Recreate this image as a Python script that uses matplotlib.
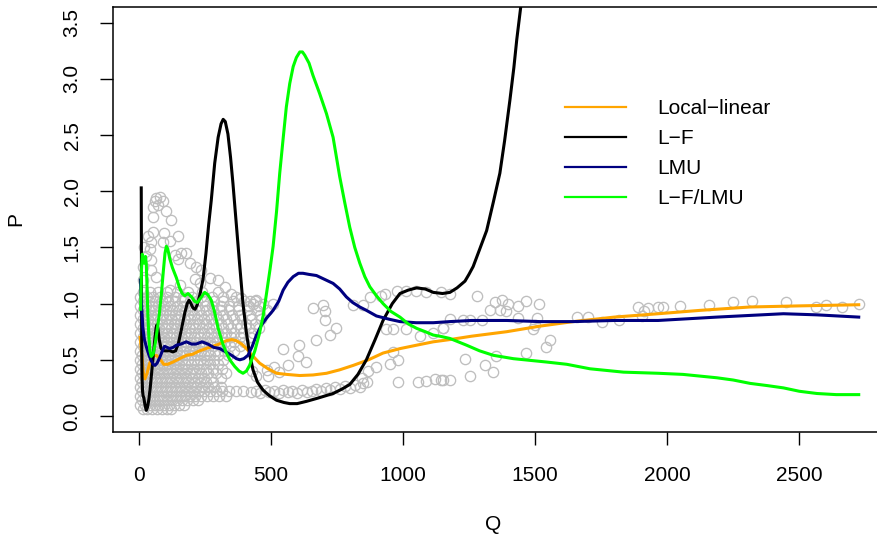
import matplotlib
matplotlib.use("Agg")
import matplotlib.pyplot as plt

plt.rcParams['font.family'] = ['Liberation Sans', 'DejaVu Sans']

# ---- fitted curves ----
orange_q = [6, 12, 18, 24, 32, 42, 55, 67, 80, 95,
            110, 130, 155, 181, 205, 231, 255, 281, 305, 332,
            352, 370, 390, 408, 430, 458, 490, 522, 560, 610,
            660, 711, 760, 812, 870, 925, 990, 1052, 1115, 1178,
            1260, 1393, 1520, 1645, 1800, 1967, 2125, 2314, 2504, 2725]
orange_p = [0.70, 0.55, 0.38, 0.33, 0.38, 0.47, 0.53, 0.54, 0.51, 0.46,
            0.46, 0.48, 0.51, 0.54, 0.55, 0.58, 0.60, 0.62, 0.64, 0.67,
            0.68, 0.67, 0.64, 0.60, 0.54, 0.47, 0.42, 0.38, 0.37, 0.36,
            0.365, 0.38, 0.41, 0.45, 0.50, 0.56, 0.60, 0.63, 0.66, 0.68,
            0.71, 0.75, 0.80, 0.84, 0.88, 0.91, 0.94, 0.97, 0.98, 0.99]

black_q = [10, 10.5, 11, 12, 13, 15, 17, 20, 24, 29,
           34, 39, 44, 50, 56, 62, 66, 69, 73, 78,
           85, 95, 105, 118, 130, 140, 150, 162, 175, 184,
           191, 198, 206, 214, 222, 232, 244, 255, 265, 275,
           288, 301, 312, 320, 328, 338, 348, 357, 370, 383,
           395, 408, 420, 433, 450, 471, 495, 522, 550, 572,
           600, 635, 680, 736, 770, 799, 830, 862, 895, 925,
           960, 989, 1020, 1052, 1085, 1115, 1150, 1178, 1205, 1235,
           1250, 1266, 1290, 1317, 1342, 1367, 1385, 1405, 1420, 1431,
           1446, 1460]
black_p = [2.03, 1.6, 1.1, 0.6, 0.35, 0.22, 0.18, 0.16, 0.10, 0.05,
           0.08, 0.15, 0.25, 0.40, 0.55, 0.70, 0.78, 0.81, 0.78, 0.68,
           0.60, 0.58, 0.58, 0.58, 0.57, 0.58, 0.64, 0.77, 0.92, 1.00,
           1.03, 1.00, 0.96, 0.95, 0.99, 1.08, 1.22, 1.45, 1.70, 1.92,
           2.25, 2.48, 2.60, 2.64, 2.62, 2.51, 2.30, 2.07, 1.70, 1.33,
           1.00, 0.74, 0.55, 0.41, 0.30, 0.23, 0.18, 0.14, 0.12, 0.11,
           0.11, 0.13, 0.16, 0.20, 0.24, 0.28, 0.37, 0.50, 0.68, 0.85,
           1.00, 1.09, 1.12, 1.14, 1.13, 1.10, 1.09, 1.10, 1.14, 1.20,
           1.26, 1.33, 1.48, 1.65, 1.90, 2.16, 2.45, 2.81, 3.10, 3.35,
           3.64, 3.95]

navy_q = [7, 9, 12, 16, 22, 30, 38, 46, 55, 62,
          70, 80, 90, 98, 108, 117, 130, 143, 160, 181,
          200, 218, 240, 262, 285, 307, 330, 352, 370, 383,
          398, 414, 430, 446, 465, 484, 509, 530, 547, 565,
          585, 605, 622, 645, 673, 700, 736, 761, 786, 810,
          837, 862, 900, 950, 989, 1050, 1115, 1178, 1260, 1393,
          1520, 1645, 1800, 1966, 2188, 2440, 2567, 2725]
navy_p = [1.21, 1.10, 0.95, 0.79, 0.68, 0.61, 0.55, 0.50, 0.46, 0.45,
          0.47, 0.52, 0.58, 0.62, 0.61, 0.60, 0.61, 0.63, 0.64, 0.66,
          0.64, 0.64, 0.66, 0.64, 0.61, 0.60, 0.57, 0.54, 0.51, 0.50,
          0.51, 0.54, 0.62, 0.72, 0.81, 0.87, 0.94, 1.02, 1.12, 1.19,
          1.24, 1.27, 1.27, 1.26, 1.25, 1.22, 1.18, 1.13, 1.06, 1.01,
          0.97, 0.94, 0.89, 0.86, 0.84, 0.83, 0.83, 0.84, 0.85, 0.85,
          0.84, 0.84, 0.85, 0.85, 0.88, 0.91, 0.90, 0.88]

green_q = [8, 11, 14, 17, 21, 26, 29, 32, 35, 39,
           43, 48, 55, 62, 70, 78, 86, 94, 100, 105,
           110, 118, 128, 143, 155, 165, 175, 187, 200, 212,
           222, 235, 250, 262, 275, 288, 301, 316, 332, 348,
           364, 380, 395, 408, 420, 440, 458, 472, 484, 497,
           509, 522, 534, 547, 559, 572, 585, 597, 610, 620,
           629, 645, 660, 685, 711, 736, 761, 780, 799, 818,
           837, 856, 875, 900, 925, 955, 989, 1020, 1052, 1085,
           1115, 1140, 1178, 1241, 1290, 1342, 1418, 1544, 1620, 1708,
           1835, 1967, 2060, 2188, 2250, 2314, 2380, 2440, 2500, 2567,
           2640, 2725]
green_p = [0.95, 1.30, 1.44, 1.40, 1.36, 1.42, 1.35, 1.15, 0.90, 0.70,
           0.58, 0.53, 0.55, 0.63, 0.76, 0.90, 1.08, 1.30, 1.45, 1.51,
           1.49, 1.40, 1.32, 1.23, 1.14, 1.09, 1.07, 1.09, 1.06, 1.02,
           1.01, 1.05, 1.10, 1.08, 1.03, 0.92, 0.78, 0.66, 0.56, 0.49,
           0.44, 0.40, 0.38, 0.40, 0.45, 0.58, 0.74, 0.90, 1.09, 1.30,
           1.51, 1.82, 2.16, 2.47, 2.75, 2.96, 3.11, 3.19, 3.24, 3.24,
           3.21, 3.14, 3.03, 2.87, 2.69, 2.48, 2.13, 1.90, 1.68, 1.50,
           1.36, 1.24, 1.15, 1.07, 1.00, 0.93, 0.88, 0.82, 0.78, 0.75,
           0.72, 0.71, 0.69, 0.63, 0.58, 0.54, 0.51, 0.48, 0.46, 0.42,
           0.39, 0.38, 0.37, 0.34, 0.32, 0.29, 0.27, 0.25, 0.22, 0.20,
           0.19, 0.19]

# ---- observations (Q, P) ----
# dense low-Q cluster, stored as rows of equal P
cluster_rows_p = [0.06, 0.10, 0.14, 0.18, 0.22, 0.26, 0.30, 0.34, 0.38, 0.42,
                  0.46, 0.50, 0.54, 0.58, 0.62, 0.66, 0.70, 0.74, 0.78, 0.82,
                  0.86, 0.90, 0.94, 0.98, 1.02, 1.06, 1.10]
cluster_rows_q = [
    [15, 33, 52, 70, 88, 106, 124],
    [6, 24, 42, 61, 79, 97, 116, 135, 154, 172],
    [14, 33, 51, 70, 88, 107, 126, 145, 164, 184, 204, 225],
    [5, 23, 42, 60, 79, 98, 117, 136, 155, 175, 195, 215, 236, 258, 281, 305, 330],
    [14, 32, 51, 70, 89, 108, 127, 146, 166, 186, 206, 227, 248, 270, 293, 317, 342, 368, 395],
    [5, 23, 42, 61, 80, 99, 118, 137, 157, 177, 197, 218, 240, 263, 287, 312],
    [14, 33, 52, 71, 90, 109, 128, 148, 168, 188, 209, 231, 254, 280],
    [5, 24, 43, 62, 81, 100, 120, 140, 160, 181, 202, 224, 248, 275, 310],
    [14, 33, 52, 72, 91, 111, 131, 151, 172, 193, 215, 238, 263, 292, 330],
    [5, 24, 43, 63, 82, 102, 122, 142, 163, 184, 206, 229, 254, 282, 316],
    [14, 34, 53, 73, 93, 113, 133, 154, 175, 197, 220, 244, 270, 300],
    [5, 24, 44, 64, 84, 104, 124, 145, 166, 188, 210, 233, 258, 285, 318],
    [14, 34, 54, 74, 94, 114, 135, 156, 177, 199, 222, 246, 272, 302, 340],
    [5, 25, 45, 65, 85, 105, 126, 147, 168, 190, 213, 237, 262, 290, 322, 360],
    [15, 35, 55, 75, 96, 117, 138, 159, 181, 204, 228, 253, 280, 310, 345, 382],
    [5, 25, 45, 66, 87, 108, 129, 150, 172, 195, 219, 244, 270, 298, 328, 362, 400],
    [15, 35, 56, 77, 98, 119, 140, 162, 185, 209, 234, 260, 287, 316, 348, 384, 420],
    [5, 25, 46, 67, 88, 109, 131, 153, 176, 200, 224, 249, 275, 302, 331, 362, 396, 434],
    [15, 36, 57, 78, 99, 121, 143, 166, 190, 214, 239, 265, 292, 320, 350, 382, 417, 455],
    [5, 26, 47, 68, 90, 112, 134, 157, 181, 205, 230, 256, 283, 311, 340, 371, 405, 442],
    [16, 37, 58, 80, 102, 124, 147, 171, 195, 220, 246, 273, 301, 330, 360, 392, 427, 463],
    [6, 27, 48, 70, 92, 115, 138, 162, 186, 211, 237, 264, 292, 321, 352, 385, 420, 458],
    [16, 38, 60, 82, 105, 128, 152, 176, 201, 227, 254, 282, 311, 342, 375, 410, 448, 485],
    [6, 28, 50, 73, 96, 120, 144, 169, 195, 222, 250, 279, 310, 343, 378, 416, 456],
    [17, 40, 63, 87, 112, 138, 165, 193, 222, 253, 286, 321, 358, 398, 440],
    [7, 30, 55, 81, 108, 137, 168, 201, 237, 276, 320, 368],
    [18, 45, 75, 108, 145, 188, 240, 300],
]

arm_pts = [(67, 1.94), (80, 1.95), (61, 1.91), (92, 1.91), (73, 1.88), (54, 1.86),
           (105, 1.82), (124, 1.74), (54, 1.77), (54, 1.64), (98, 1.63), (149, 1.60),
           (48, 1.55), (92, 1.55), (117, 1.56), (42, 1.49), (136, 1.43), (162, 1.45),
           (181, 1.45), (149, 1.40), (193, 1.36), (216, 1.33), (237, 1.30), (269, 1.23),
           (300, 1.21), (29, 1.42), (48, 1.39), (16, 1.33), (48, 1.30), (67, 1.24),
           (16, 1.21), (212, 1.22), (231, 1.18), (326, 1.15), (351, 1.09), (389, 1.05),
           (420, 1.02), (446, 1.03), (117, 1.12), (155, 1.17), (20, 1.50), (36, 1.60)]

low_band_pts = [(425, 0.21), (445, 0.22), (460, 0.20), (478, 0.23), (495, 0.21), (512, 0.22),
                (530, 0.20), (548, 0.23), (565, 0.21), (582, 0.22), (600, 0.20), (618, 0.23),
                (636, 0.21), (655, 0.22), (672, 0.24), (690, 0.22), (708, 0.25), (726, 0.23),
                (744, 0.26), (762, 0.24), (780, 0.27), (800, 0.25), (818, 0.28), (836, 0.26),
                (850, 0.29), (863, 0.30)]

mid_pts = [(430, 0.40), (446, 0.36), (484, 0.41), (490, 0.36), (511, 0.44), (531, 0.39),
           (547, 0.60), (566, 0.45), (603, 0.53), (606, 0.63), (633, 0.48), (660, 0.96),
           (673, 0.68), (698, 0.99), (705, 0.93), (705, 0.85), (723, 0.72), (746, 0.78),
           (812, 0.99), (850, 0.99), (875, 1.06), (919, 1.07), (932, 1.09), (976, 1.11),
           (1013, 1.11), (1051, 1.11), (1089, 1.10), (1146, 1.10), (938, 0.77), (963, 0.77),
           (1013, 0.77), (1064, 0.71), (1114, 0.74), (1152, 0.78), (963, 0.57), (982, 0.50),
           (951, 0.46), (900, 0.44), (869, 0.40), (844, 0.34), (982, 0.30), (1058, 0.30),
           (1089, 0.31), (1120, 0.33), (1146, 0.32), (433, 1.00), (470, 1.00), (508, 1.00)]

tail_pts = [(1178, 1.09), (1279, 1.07), (1348, 1.01), (1374, 1.03), (1399, 1.00),
            (1330, 0.94), (1367, 0.94), (1392, 0.93), (1437, 0.98), (1466, 1.02),
            (1516, 1.00), (1298, 0.85), (1254, 0.85), (1229, 0.85), (1178, 0.86),
            (1153, 0.78), (1437, 0.87), (1506, 0.87), (1500, 0.81), (1494, 0.77),
            (1557, 0.68), (1542, 0.61), (1466, 0.56), (1352, 0.53), (1235, 0.51),
            (1311, 0.45), (1342, 0.39), (1254, 0.36), (1153, 0.32), (1178, 0.32),
            (1658, 0.88), (1700, 0.88), (1755, 0.84), (1818, 0.85), (1891, 0.97),
            (1929, 0.96), (1913, 0.93), (1904, 0.89), (1966, 0.97), (1986, 0.97),
            (2049, 0.98), (2157, 0.99), (2249, 1.01), (2321, 1.02), (2451, 1.01),
            (2564, 0.97), (2602, 0.99), (2662, 0.97), (2725, 1.00)]

x_ticks = [0, 500, 1000, 1500, 2000, 2500]
y_ticks = [0.0, 0.5, 1.0, 1.5, 2.0, 2.5, 3.0, 3.5]
legend_labels = ["Local\u2212linear", "L\u2212F", "LMU", "L\u2212F/LMU"]
line_colors = ["#FFA500", "black", "#000080", "#00FF00"]

obs_q, obs_p = [], []
for p, row in zip(cluster_rows_p, cluster_rows_q):
    obs_q += row
    obs_p += [p] * len(row)
for q, p in arm_pts + low_band_pts + mid_pts + tail_pts:
    obs_q.append(q)
    obs_p.append(p)

fig = plt.figure(figsize=(8.78, 5.42), dpi=100)
W, H = 878, 542
ax = fig.add_axes([112.7 / W, 1 - 431.7 / H, (887 - 112.7) / W, (431.7 - 7) / H])

ax.plot(obs_q, obs_p, linestyle='none', marker='o', markersize=7.4,
        markerfacecolor='none', markeredgecolor='#BEBEBE', markeredgewidth=0.95)

curves = [(orange_q, orange_p), (black_q, black_p), (navy_q, navy_p), (green_q, green_p)]
handles = []
for (qs, ps), col, lab in zip(curves, line_colors, legend_labels):
    h, = ax.plot(qs, ps, color=col, lw=2.2, label=lab, solid_joinstyle='round')
    handles.append(h)

ax.set_xlim(-98, 2832)
ax.set_ylim(-0.14, 3.64)
ax.set_xticks(x_ticks)
ax.set_xticklabels([str(t) for t in x_ticks])
ax.set_yticks(y_ticks)
ax.set_yticklabels([f"{t:.1f}" for t in y_ticks], rotation=90, va='center')
ax.tick_params(direction='out', length=9.4, width=1.0, labelsize=15, pad=13)
ax.tick_params(axis='x', pad=15.5)
for s in ax.spines.values():
    s.set_linewidth(1.1)

fig.text(493 / W, 1 - 525 / H, "Q", fontsize=15, ha='center', va='center')
fig.text(16 / W, 1 - 219 / H, "P", fontsize=15, ha='center', va='center', rotation=90)

leg = ax.legend(handles=handles, loc='upper left', bbox_to_anchor=(565 / W, 1 - 99 / H),
                bbox_transform=fig.transFigure, frameon=False, fontsize=15,
                handlelength=2.95, handletextpad=1.5, labelspacing=0.53,
                borderpad=0, borderaxespad=0)
for lh in leg.get_lines():
    lh.set_linewidth(1.6)

fig.savefig("out.png", dpi=100)
